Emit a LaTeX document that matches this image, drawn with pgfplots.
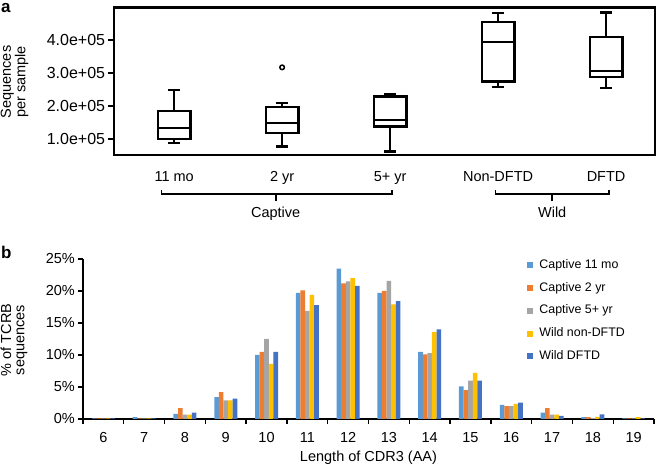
\documentclass[border=0pt]{standalone}
\usepackage{pgfplots}
\pgfplotsset{compat=1.18}
\usepgfplotslibrary{statistics}
\usepackage{fontspec}
\setmainfont{Liberation Sans}
\definecolor{cA}{HTML}{5B9BD5}
\definecolor{cB}{HTML}{ED7D31}
\definecolor{cC}{HTML}{A5A5A5}
\definecolor{cD}{HTML}{FFC000}
\definecolor{cE}{HTML}{4472C4}
\pgfplotsset{sqlegend/.style={legend image code/.code={\fill[##1] (0pt,-3pt) rectangle (6pt,3pt);}}}
\pgfplotstableread{
len cA cB cC cD cE
6  0.1 0.1 0.1 0.1 0.1
7  0.3 0.1 0.1 0.1 0.1
8  0.8 1.7 0.7 0.7 1.0
9  3.4 4.2 2.9 2.9 3.2
10 10.0 10.5 12.5 8.6 10.5
11 19.7 20.1 16.9 19.4 17.8
12 23.5 21.2 21.5 22.0 20.8
13 19.7 20.0 21.6 17.9 18.4
14 10.5 10.1 10.3 13.6 14.0
15 5.1 4.5 6.0 7.2 6.0
16 2.2 2.0 2.0 2.35 2.55
17 1.0 1.7 0.7 0.7 0.5
18 0.3 0.3 0.15 0.35 0.73
19 0.1 0.1 0.1 0.3 0.1
}\cdrtable
\begin{document}
\fontsize{14.5}{17}\selectfont
\begin{tikzpicture}
\path[use as bounding box] (0pt,0pt) rectangle (657pt,-465pt);
\node[anchor=base west, inner sep=0pt, font=\fontsize{17}{19}\selectfont\bfseries] at (1pt,-13pt) {a};
\node[anchor=base west, inner sep=0pt, font=\fontsize{17}{19}\selectfont\bfseries] at (1pt,-258.5pt) {b};
\node[rotate=90, align=center, inner sep=0pt, font=\fontsize{14.5}{13.3}\selectfont] at (14.5pt,-82pt) {Sequences\\per sample};
\node[rotate=90, align=center, inner sep=0pt, font=\fontsize{14.5}{13.3}\selectfont] at (14pt,-340pt) {\% of TCRB\\sequences};

% values in units of 1e5 sequences
\begin{axis}[
  at={(114.3pt,-155pt)}, anchor=south west, scale only axis,
  width=540.7pt, height=147.5pt,
  xmin=0.446, xmax=5.453, ymin=0.52, ymax=4.98,
  axis line style={line width=2.2pt},
  xtick={1,2,3,4,5},
  xticklabels={11 mo, 2 yr, 5+ yr, Non-DFTD, DFTD},
  xtick style={draw=none},
  xticklabel style={anchor=base, yshift=-20.9pt, font=\fontsize{14.5}{17}\selectfont},
  ytick={1,2,3,4},
  yticklabels={1.0e+05,2.0e+05,3.0e+05,4.0e+05},
  ytick pos=left, tick align=outside, major tick length=6pt,
  ytick style={line width=1.4pt, black},
  yticklabel style={font=\fontsize{16}{18}\selectfont, anchor=east, inner sep=0pt, xshift=-3pt},
  boxplot/draw direction=y,
  clip=false,
]
\addplot[black, line width=2.2pt, fill=white, boxplot prepared={lower whisker=0.88, lower quartile=1.00, median=1.34, upper quartile=1.86, upper whisker=2.49, draw position=1, box extend=0.305, whisker extend=0.114}] coordinates {};
\addplot[black, line width=2.2pt, fill=white, mark=o, mark size=2.3pt, mark options={solid, line width=1.5pt, fill=white}, boxplot prepared={lower whisker=0.776, lower quartile=1.18, median=1.48, upper quartile=1.97, upper whisker=2.09, draw position=2, box extend=0.305, whisker extend=0.114}] table[row sep=\\, y index=0] {y\\ 3.17\\};
\addplot[black, line width=2.2pt, fill=white, boxplot prepared={lower whisker=0.625, lower quartile=1.38, median=1.58, upper quartile=2.29, upper whisker=2.36, draw position=3, box extend=0.305, whisker extend=0.114}] coordinates {};
\addplot[black, line width=2.2pt, fill=white, boxplot prepared={lower whisker=2.58, lower quartile=2.74, median=3.93, upper quartile=4.55, upper whisker=4.82, draw position=4, box extend=0.305, whisker extend=0.114}] coordinates {};
\addplot[black, line width=2.2pt, fill=white, boxplot prepared={lower whisker=2.55, lower quartile=2.87, median=3.05, upper quartile=4.08, upper whisker=4.83, draw position=5, box extend=0.305, whisker extend=0.114}] coordinates {};
\end{axis}

\draw[line width=1.6pt] (161.3pt,-190pt) -- (161.3pt,-194.3pt) -- (391.7pt,-194.3pt) -- (391.7pt,-190pt);
\draw[line width=1.6pt] (275.7pt,-194.3pt) -- (275.7pt,-200.7pt);
\draw[line width=1.6pt] (495.6pt,-190pt) -- (495.6pt,-194.3pt) -- (608.7pt,-194.3pt) -- (608.7pt,-190pt);
\draw[line width=1.6pt] (552.2pt,-194.3pt) -- (552.2pt,-200.7pt);
\node[anchor=base, inner sep=0pt] at (275.7pt,-217.9pt) {Captive};
\node[anchor=base, inner sep=0pt] at (552.2pt,-217.9pt) {Wild};

\begin{axis}[
  at={(83pt,-419pt)}, anchor=south west, scale only axis,
  width=571pt, height=160pt,
  xmin=5.5, xmax=19.5, ymin=0, ymax=25,
  axis x line*=bottom, axis y line*=left,
  axis line style={line width=2pt},
  ybar=0pt, bar width=4.6pt,
  xtick={6,7,8,9,10,11,12,13,14,15,16,17,18,19},
  xticklabels={6,7,8,9,10,11,12,13,14,15,16,17,18,19},
  major x tick style={draw=none},
  minor xtick={5.5,6.5,...,19.5},
  minor tick length=5pt,
  minor x tick style={line width=1.4pt, black},
  xticklabel style={anchor=base, yshift=-18.9pt, font=\fontsize{14.5}{17}\selectfont},
  ytick={0,5,10,15,20,25},
  yticklabels={0\%,5\%,10\%,15\%,20\%,25\%},
  tick align=outside, major tick length=5pt,
  ytick style={line width=1.4pt, black},
  yticklabel style={font=\fontsize{14.5}{17}\selectfont, anchor=east, inner sep=0pt, xshift=-3pt},
  xlabel={Length of CDR3 (AA)},
  every axis x label/.style={at={(rel axis cs:0.5,0)}, anchor=base, yshift=-42pt},
  legend style={at={(0.778,1.0)}, anchor=north west, draw=none, fill=none, inner sep=0pt,
    font=\fontsize{12.4}{14}\selectfont, row sep=10.8pt, column sep=6pt,
    nodes={inner sep=0pt, text height=9pt, text depth=3pt}},
  legend cell align=left,
  clip=false,
]
\addplot[fill=cA, draw=none, sqlegend] table[x=len, y=cA] {\cdrtable};
\addplot[fill=cB, draw=none, sqlegend] table[x=len, y=cB] {\cdrtable};
\addplot[fill=cC, draw=none, sqlegend] table[x=len, y=cC] {\cdrtable};
\addplot[fill=cD, draw=none, sqlegend] table[x=len, y=cD] {\cdrtable};
\addplot[fill=cE, draw=none, sqlegend] table[x=len, y=cE] {\cdrtable};
\legend{Captive 11 mo, Captive 2 yr, Captive 5+ yr, Wild non-DFTD, Wild DFTD}
\end{axis}
\end{tikzpicture}
\end{document}
